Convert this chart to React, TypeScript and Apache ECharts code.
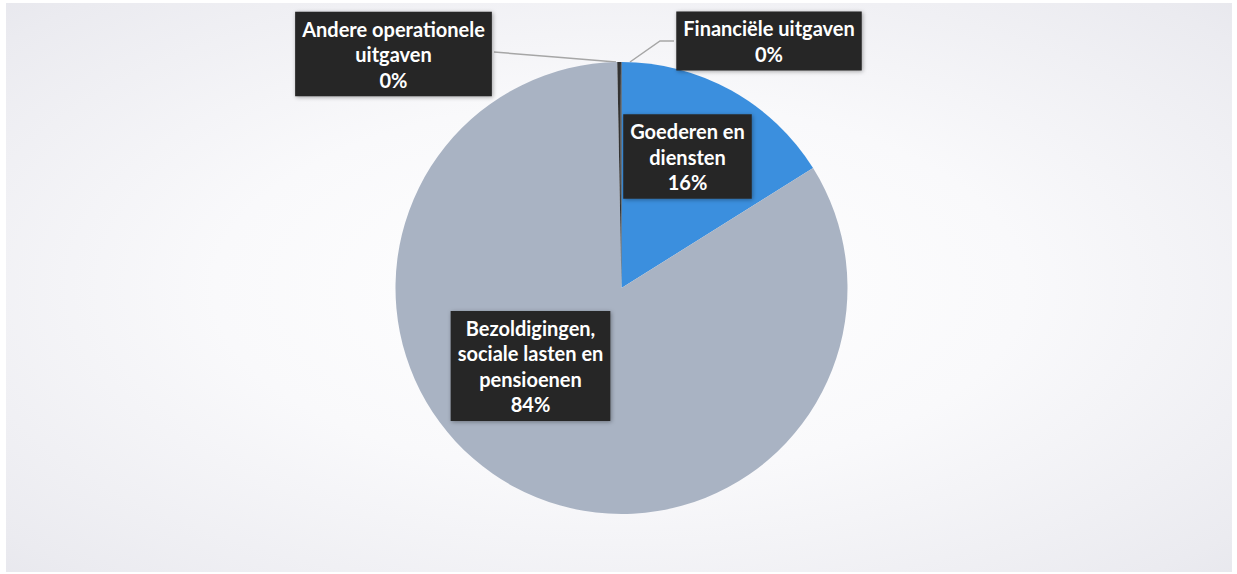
import React, { useEffect, useRef } from "react";
import * as echarts from "echarts";

const categories = [
  "Goederen en diensten",
  "Bezoldigingen, sociale lasten en pensioenen",
  "Andere operationele uitgaven",
  "Financiële uitgaven",
];
const labelTexts = [
  "Goederen en\ndiensten",
  "Bezoldigingen,\nsociale lasten en\npensioenen",
  "Andere operationele\nuitgaven",
  "Financiële uitgaven",
];
const values = [16.1, 83.6, 0.2, 0.1];
const colors = ["#3b8fde", "#a9b3c3", "#333333", "#2a2a2a"];

// label layout (style only)
const labelCenters: [number, number][] = [
  [687.5, 156.5],
  [530.5, 366],
  [393.5, 54],
  [769, 41],
];
const labelLinePts: ([number, number][] | null)[] = [
  null,
  null,
  [[494, 52], [555, 57], [616, 62]],
  [[674, 41], [660, 41], [630, 62]],
];

export default function App() {
  const ref = useRef<HTMLDivElement>(null);
  useEffect(() => {
    document.body.style.margin = "0";
    const chart = echarts.init(ref.current!, null, { renderer: "svg" });
    chart.setOption({
      animation: false,
      backgroundColor: "#ffffff",
      graphic: [
        {
          type: "rect",
          z: -10,
          silent: true,
          shape: { x: 6, y: 3, width: 1226, height: 569 },
          style: {
            fill: new echarts.graphic.RadialGradient(0.5, 0.5, 1.1, [
              { offset: 0, color: "#ffffff" },
              { offset: 0.3, color: "#f9f9fb" },
              { offset: 0.6, color: "#ebebf0" },
              { offset: 1, color: "#d2d3dd" },
            ]),
          },
        },
      ],
      series: [
        {
          type: "pie",
          center: [621.5, 288],
          radius: 226,
          startAngle: 90,
          clockwise: true,
          avoidLabelOverlap: false,
          minShowLabelAngle: 0,
          data: categories.map((c, i) => ({
            name: c,
            value: values[i],
            itemStyle: { color: colors[i] },
            labelLine: { show: i >= 2 },
          })),
          label: {
            show: true,
            position: "outside",
            formatter: (p: any) =>
              labelTexts[p.dataIndex] + "\n" + Math.round(p.percent) + "%",
            color: "#ffffff",
            fontFamily: "Lato, 'Open Sans', sans-serif",
            fontWeight: "bold",
            fontSize: 20,
            lineHeight: 25.5,
            align: "center",
            backgroundColor: "#262626",
            padding: [4, 7, 4, 7],
            shadowBlur: 4,
            shadowColor: "rgba(0,0,0,0.35)",
            shadowOffsetX: 1,
            shadowOffsetY: 1,
          },
          labelLine: {
            show: true,
            lineStyle: { color: "#a6a6a6", width: 1.5 },
          },
          labelLayout: (p: any) => {
            const i = p.dataIndex;
            const c = labelCenters[i];
            const res: any = {
              x: c[0],
              y: c[1],
              align: "center",
              verticalAlign: "middle",
            };
            if (labelLinePts[i]) res.labelLinePoints = labelLinePts[i];
            return res;
          },
        },
      ],
    });
    return () => chart.dispose();
  }, []);
  return (
    <div
      ref={ref}
      style={{ position: "absolute", left: 0, top: 0, width: 1237, height: 574 }}
    />
  );
}
